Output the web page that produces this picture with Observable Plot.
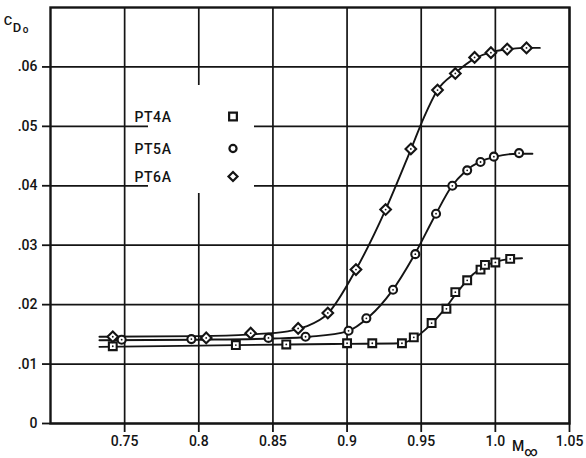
<!DOCTYPE html>
<html><head><meta charset="utf-8">
<script src="https://cdn.jsdelivr.net/npm/d3@7"></script>
<script src="https://cdn.jsdelivr.net/npm/@observablehq/plot@0.6"></script>
<style>
body{margin:0;background:#fff}
#chart{width:586px;height:458px}
</style>
</head><body><div id="chart"></div>
<script>
// ---- data ----
const series = ["PT4A", "PT5A", "PT6A"];
const symbols = ["square", "circle", "diamond2"];

// measured points
const pt4aMach = [0.742, 0.825, 0.859, 0.900, 0.917, 0.937, 0.945, 0.957, 0.967, 0.973, 0.981, 0.990, 0.993, 1.000, 1.010];
const pt4aCd   = [0.0130, 0.0132, 0.0133, 0.0135, 0.0135, 0.0135, 0.0145, 0.0169, 0.0193, 0.0221, 0.0241, 0.0259, 0.0267, 0.0271, 0.0277];
const pt5aMach = [0.748, 0.795, 0.847, 0.872, 0.901, 0.913, 0.931, 0.946, 0.960, 0.971, 0.981, 0.990, 0.999, 1.016];
const pt5aCd   = [0.0141, 0.0142, 0.0144, 0.0146, 0.0156, 0.0177, 0.0225, 0.0285, 0.0353, 0.0400, 0.0426, 0.0440, 0.0449, 0.0455];
const pt6aMach = [0.742, 0.805, 0.835, 0.867, 0.887, 0.906, 0.926, 0.943, 0.961, 0.973, 0.986, 0.997, 1.008, 1.021];
const pt6aCd   = [0.0146, 0.0144, 0.0152, 0.0160, 0.0186, 0.0259, 0.0360, 0.0462, 0.0561, 0.0589, 0.0616, 0.0624, 0.0630, 0.0632];

// faired curves
const pt4aCurveMach = [0.733, 0.80, 0.86, 0.90, 0.936, 0.945, 0.955, 0.965, 0.975, 0.985, 0.993, 1.000, 1.010, 1.018];
const pt4aCurveCd   = [0.0129, 0.0131, 0.0133, 0.0134, 0.0135, 0.0143, 0.0163, 0.0190, 0.0223, 0.0251, 0.0265, 0.0272, 0.0277, 0.0278];
const pt5aCurveMach = [0.733, 0.80, 0.85, 0.875, 0.90, 0.915, 0.93, 0.945, 0.96, 0.97, 0.98, 0.99, 1.00, 1.015, 1.025];
const pt5aCurveCd   = [0.0140, 0.0141, 0.0143, 0.0146, 0.0155, 0.0180, 0.0222, 0.0282, 0.0353, 0.0397, 0.0425, 0.0441, 0.0449, 0.0454, 0.0454];
const pt6aCurveMach = [0.733, 0.80, 0.835, 0.86, 0.872, 0.887, 0.906, 0.926, 0.943, 0.952, 0.961, 0.973, 0.986, 0.997, 1.010, 1.020, 1.030];
const pt6aCurveCd   = [0.0146, 0.0147, 0.0150, 0.0155, 0.0163, 0.0185, 0.0259, 0.0360, 0.0461, 0.0516, 0.0561, 0.0590, 0.0614, 0.0625, 0.0630, 0.0632, 0.0632];

const xTicks = [0.75, 0.80, 0.85, 0.90, 0.95, 1.00, 1.05];
const xTickLabels = ["0.75", "0.8", "0.85", "0.9", "0.95", "1.0", "1.05"];
const yTicks = [0, 0.01, 0.02, 0.03, 0.04, 0.05, 0.06];
const yTickLabels = ["0", ".01", ".02", ".03", ".04", ".05", ".06"];

// ---- tables ----
const pointSets = [[pt4aMach, pt4aCd], [pt5aMach, pt5aCd], [pt6aMach, pt6aCd]];
const curveSets = [[pt4aCurveMach, pt4aCurveCd], [pt5aCurveMach, pt5aCurveCd], [pt6aCurveMach, pt6aCurveCd]];
const pointTables = pointSets.map(([m, c], i) => m.map((v, j) => ({series: series[i], mach: v, cd: c[j]})));
const points = pointTables.flat();
const curves = curveSets.flatMap(([m, c], i) => m.map((v, j) => ({series: series[i], mach: v, cd: c[j]})));

const ink = "#141414";
const font = "Roboto, 'Liberation Sans', Arial, sans-serif";
const symR = [4.4, 4.0, 4.8];

const plot = Plot.plot({
  width: 586,
  height: 458,
  marginLeft: 50,
  marginRight: 17,
  marginTop: 7,
  marginBottom: 35,
  style: {fontFamily: font, fontSize: "14px", fontWeight: 500, color: ink, background: "#fff"},
  x: {domain: [0.70, 1.05]},
  y: {domain: [0, 0.07]},
  marks: [
    Plot.gridX(xTicks, {stroke: ink, strokeOpacity: 1, strokeWidth: 1.7}),
    Plot.gridY(yTicks, {stroke: ink, strokeOpacity: 1, strokeWidth: 1.7}),
    Plot.axisX({ticks: xTicks, tickSize: 9, tickPadding: 4, strokeWidth: 1.8,
      tickFormat: d => xTickLabels[xTicks.indexOf(d)], label: null, fontSize: 14}),
    Plot.axisY({ticks: yTicks, tickSize: 8, tickPadding: 5, strokeWidth: 1.8,
      tickFormat: d => yTickLabels[yTicks.indexOf(d)], label: null, fontSize: 14}),
    Plot.frame({stroke: ink, strokeWidth: 2.4}),
    Plot.line(curves, {x: "mach", y: "cd", z: "series", curve: "monotone-x", stroke: ink, strokeWidth: 1.9}),
    ...pointTables.map((t, i) => Plot.dot(t, {x: "mach", y: "cd", symbol: symbols[i], r: symR[i],
      fill: "#fff", stroke: ink, strokeWidth: 2.1})),
    Plot.dot(points, {x: "mach", y: "cd", r: 0.9, fill: ink, stroke: null})
  ]
});

document.getElementById("chart").appendChild(plot);

// ---- legend box and axis titles (layout, in px) ----
const svg = d3.select(plot);
const g = svg.append("g").attr("font-family", font).attr("font-weight", 500).attr("fill", ink);
g.append("rect").attr("x", 148).attr("y", 85).attr("width", 106).attr("height", 108).attr("fill", "#fff");
const legendRows = [121.5, 153.5, 181.5];
const legendSym = [d3.symbolSquare, d3.symbolCircle, d3.symbolDiamond2];
const legendSize = [60, 40, 52];
series.forEach((s, i) => {
  g.append("text").attr("x", 153).attr("y", legendRows[i]).attr("font-size", 14).attr("letter-spacing", 0.6).text(s);
  g.append("path").attr("d", d3.symbol(legendSym[i], legendSize[i])())
    .attr("transform", `translate(233,${legendRows[i] - 5})`)
    .attr("fill", "#fff").attr("stroke", ink).attr("stroke-width", 2.2);
});

// y title  C_D0
const yt = g.append("text").attr("font-size", 13);
yt.append("tspan").attr("x", 8).attr("y", 25).text("C");
yt.append("tspan").attr("x", 17).attr("y", 32).attr("font-size", 13).text("D");
yt.append("tspan").attr("x", 25.5).attr("y", 33).attr("font-size", 10).text("o");

// x title  M∞
const xt = g.append("text").attr("font-size", 14);
xt.append("tspan").attr("x", 518).attr("y", 451).text("M");
xt.append("tspan").attr("x", 531).attr("y", 456).attr("font-size", 13).text("∞");
</script>
</body></html>
